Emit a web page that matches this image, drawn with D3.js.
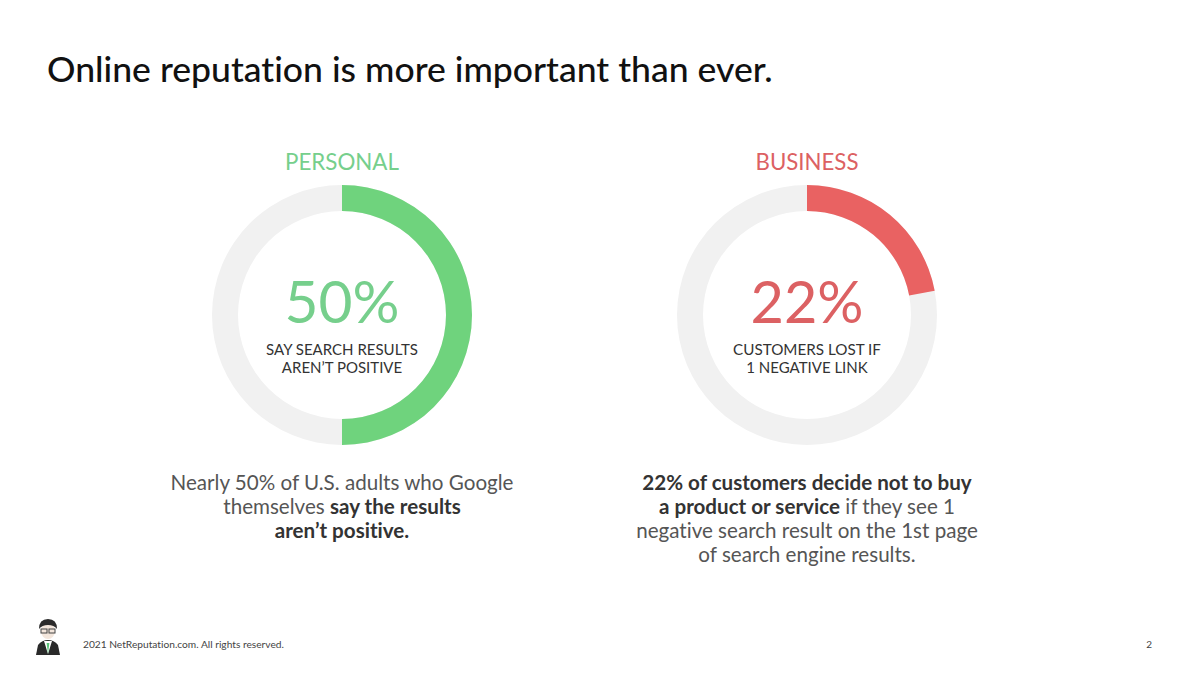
<!DOCTYPE html>
<html>
<head>
<meta charset="utf-8">
<script src="https://cdn.jsdelivr.net/npm/d3@7"></script>
<style>
  html, body { margin: 0; padding: 0; background: #fff; }
  svg { display: block; font-family: Lato, "Noto Sans", sans-serif; font-variant-ligatures: none; font-feature-settings: "liga" 0, "clig" 0; }
</style>
</head>
<body>
<svg id="chart" width="1200" height="675"></svg>
<script>
// ---- data ----
const title = "Online reputation is more important than ever.";
const categories = ["PERSONAL", "BUSINESS"];
const values = [50, 22];
const valueLabels = ["50%", "22%"];
const subLabels = [["SAY SEARCH RESULTS", "AREN\u2019T POSITIVE"], ["CUSTOMERS LOST IF", "1 NEGATIVE LINK"]];
const descriptions = [
  [[["Nearly 50% of U.S. adults who Google", false]],
   [["themselves ", false], ["say the results", true]],
   [["aren\u2019t positive.", true]]],
  [[["22% of customers decide not to buy", true]],
   [["a product or service", true], [" if they see 1", false]],
   [["negative search result on the 1st page", false]],
   [["of search engine results.", false]]]
];
const footer = "2021 NetReputation.com. All rights reserved.";
const pageNumber = "2";

// ---- styles / layout ----
const arcColors = ["#6fd37d", "#e96262"];
const labelColors = ["#76cf8c", "#dc6163"];
const trackColor = "#f1f1f1";
const centersX = [342, 807];
const cy = 315, outerR = 130, innerR = 104;

const svg = d3.select("#chart");

function fit(sel, target) {
  const w = sel.node().getComputedTextLength();
  const fs = parseFloat(sel.attr("font-size"));
  sel.attr("font-size", fs * target / w);
}

// title
const t = svg.append("text").attr("x", 47).attr("y", 82)
  .attr("font-size", 34).attr("font-weight", 500).attr("fill", "#111")
  .text(title);
fit(t, 726);

const angle = d3.scaleLinear().domain([0, 100]).range([0, 2 * Math.PI]);
const arc = d3.arc().innerRadius(innerR).outerRadius(outerR);

categories.forEach((cat, i) => {
  const g = svg.append("g").attr("transform", `translate(${centersX[i]},${cy})`);
  g.append("path").attr("d", arc({startAngle: 0, endAngle: angle(100)})).attr("fill", trackColor);
  g.append("path").attr("d", arc({startAngle: 0, endAngle: angle(values[i])})).attr("fill", arcColors[i]);

  const cl = g.append("text").attr("y", 170 - cy).attr("text-anchor", "middle")
    .attr("font-size", 22).attr("fill", labelColors[i]).text(cat);
  fit(cl, i === 0 ? 114 : 103);

  const big = g.append("text").attr("y", 323 - cy).attr("text-anchor", "middle")
    .attr("font-size", 66).attr("font-weight", 400).attr("fill", labelColors[i]).text(valueLabels[i]);
  fit(big, i === 0 ? 115 : 113);

  subLabels[i].forEach((s, j) => {
    const st = g.append("text").attr("y", 355 - cy + j * 18).attr("text-anchor", "middle")
      .attr("font-size", 15).attr("fill", "#333").text(s);
    if (j === 0) fit(st, i === 0 ? 152 : 148);
  });

  descriptions[i].forEach((line, j) => {
    const dt = svg.append("text").attr("x", centersX[i]).attr("y", 490 + j * 24)
      .attr("text-anchor", "middle").attr("font-size", 20.6);
    line.forEach(([txt, bold]) => {
      dt.append("tspan").attr("font-weight", bold ? 700 : 400)
        .attr("fill", bold ? "#333" : "#555").text(txt);
    });
  });
});

// footer
svg.append("text").attr("x", 83).attr("y", 648).attr("font-size", 10.2)
  .attr("fill", "#444").text(footer);
svg.append("text").attr("x", 1152).attr("y", 648).attr("text-anchor", "end")
  .attr("font-size", 10).attr("fill", "#444").text(pageNumber);

// logo
const logo = svg.append("g").attr("transform", "translate(48,637)");
logo.append("path").attr("d", "M-12,18 L-10,8 Q-6,3 0,3 Q6,3 10,8 L12,18 Z").attr("fill", "#2a2a2a");
logo.append("path").attr("d", "M-4,4 L0,17 L4,4 Z").attr("fill", "#fff");
logo.append("path").attr("d", "M-1.4,6 L0,17 L1.4,6 Z").attr("fill", "#5cc57a");
logo.append("ellipse").attr("cx", 0).attr("cy", -6).attr("rx", 7).attr("ry", 8).attr("fill", "#f3e6dc");
logo.append("path").attr("d", "M-9,-8 Q-9,-18 0,-18 Q9,-18 9,-8 Q6,-12 0,-12 Q-6,-12 -9,-8 Z").attr("fill", "#2b2b2b");
logo.append("rect").attr("x", -7).attr("y", -8).attr("width", 6).attr("height", 4).attr("fill", "none").attr("stroke", "#444").attr("stroke-width", 1);
logo.append("rect").attr("x", 1).attr("y", -8).attr("width", 6).attr("height", 4).attr("fill", "none").attr("stroke", "#444").attr("stroke-width", 1);
</script>
</body>
</html>
